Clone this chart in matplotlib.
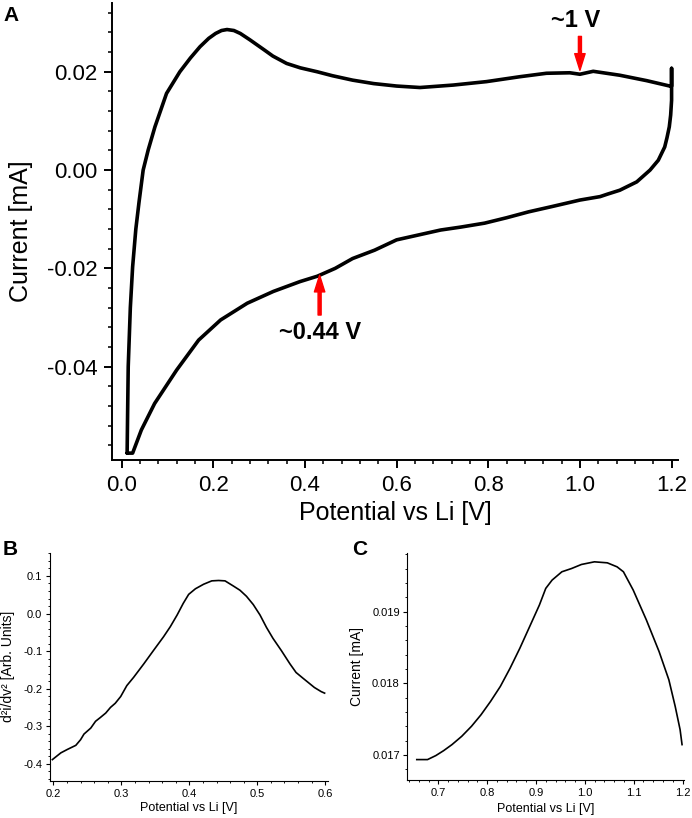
import matplotlib.pyplot as plt
from matplotlib.ticker import MultipleLocator, FormatStrFormatter

plt.rcParams['font.family'] = ['Liberation Sans', 'DejaVu Sans']
plt.rcParams['axes.unicode_minus'] = False

# Panel A - cyclic voltammogram (upper branch, then lower branch back)
cv_up_x = [0.012, 0.013, 0.0144, 0.019, 0.024, 0.031, 0.038, 0.047, 0.058, 0.0727,
           0.098, 0.127, 0.150, 0.171, 0.190, 0.205, 0.218, 0.230, 0.245, 0.259,
           0.28, 0.312, 0.33, 0.36, 0.39, 0.427, 0.46, 0.504, 0.55,
           0.60, 0.651, 0.7236, 0.796, 0.869, 0.927, 0.978, 1.0, 1.029, 1.087,
           1.1455, 1.196, 1.2]
cv_up_y = [-0.0576, -0.050, -0.040, -0.028, -0.0197, -0.012, -0.0065, 0.0, 0.0041, 0.0088,
           0.0156, 0.020, 0.0228, 0.0251, 0.0268, 0.0278, 0.0284, 0.0286, 0.0284, 0.0278,
           0.0265, 0.0244, 0.0232, 0.0217, 0.0208, 0.020, 0.0192, 0.0183, 0.0176,
           0.0171, 0.0168, 0.0173, 0.018, 0.019, 0.0197, 0.0198, 0.0195, 0.0201, 0.0193,
           0.0182, 0.0171, 0.0171]
cv_down_x = [1.2, 1.2, 1.198, 1.195, 1.19, 1.185, 1.171, 1.153, 1.124, 1.087, 1.06, 1.044, 1.0,
             0.94, 0.888, 0.84, 0.792, 0.74, 0.696, 0.648, 0.60, 0.552, 0.504, 0.466, 0.427, 0.389,
             0.331, 0.274, 0.216, 0.168, 0.12, 0.072, 0.043, 0.024, 0.012]
cv_down_y = [0.0207, 0.0142, 0.0112, 0.0088, 0.0066, 0.0047, 0.002, 0.0, -0.0024, -0.0041, -0.0049, -0.0054, -0.0061,
             -0.0074, -0.0085, -0.0097, -0.0108, -0.0116, -0.0122, -0.0132, -0.0142, -0.0163, -0.018, -0.020, -0.0216, -0.0227,
             -0.0247, -0.0271, -0.0305, -0.0346, -0.0407, -0.0475, -0.0529, -0.0576, -0.0576]

# Panel B - second derivative around 0.44 V
d2_x = [0.1985, 0.211, 0.2205, 0.233, 0.240, 0.245, 0.255, 0.262, 0.269, 0.277,
        0.284, 0.291, 0.299, 0.308, 0.318, 0.333, 0.347, 0.362, 0.372, 0.382,
        0.391, 0.399, 0.409, 0.421, 0.433, 0.443, 0.4525, 0.465, 0.4745, 0.484,
        0.494, 0.504, 0.5135, 0.523, 0.5355, 0.548, 0.557, 0.567, 0.5745, 0.584,
        0.594, 0.599]
d2_y = [-0.389, -0.371, -0.362, -0.351, -0.336, -0.321, -0.305, -0.287, -0.277, -0.265,
        -0.250, -0.239, -0.221, -0.192, -0.170, -0.134, -0.099, -0.062, -0.035, -0.004,
        0.027, 0.051, 0.066, 0.078, 0.087, 0.088, 0.087, 0.073, 0.062, 0.046,
        0.024, -0.004, -0.037, -0.066, -0.099, -0.134, -0.157, -0.172, -0.183, -0.197,
        -0.208, -0.212]

# Panel C - current around 1 V
c_x = [0.656, 0.678, 0.695, 0.711, 0.728, 0.748, 0.768, 0.7875, 0.807, 0.827,
       0.847, 0.867, 0.887, 0.907, 0.920, 0.933, 0.953, 0.973, 0.993, 1.0196,
       1.046, 1.066, 1.079, 1.099, 1.126, 1.152, 1.172, 1.185, 1.195, 1.199]
c_y = [0.016935, 0.016935, 0.016991, 0.01706, 0.017144, 0.01726, 0.0174, 0.017561, 0.017747, 0.017956,
       0.018211, 0.01849, 0.018791, 0.019093, 0.019325, 0.019441, 0.019557, 0.019603, 0.019659, 0.019696,
       0.019682, 0.019626, 0.019557, 0.019302, 0.018884, 0.018443, 0.018049, 0.017677, 0.017353, 0.017144]

W, H = 692, 818
fig = plt.figure(figsize=(W / 100, H / 100), dpi=100)


def style(ax, lw, maj, mino, size, pad):
    ax.spines['top'].set_visible(False)
    ax.spines['right'].set_visible(False)
    for s in ('left', 'bottom'):
        ax.spines[s].set_linewidth(lw)
    ax.tick_params(which='major', direction='out', length=maj, width=lw, labelsize=size, pad=pad)
    ax.tick_params(which='minor', direction='out', length=mino, width=lw * 0.8)


# ---- A ----
axA = fig.add_axes([112 / W, 1 - 460 / H, (678 - 112) / W, (460 - 3) / H])
axA.plot(cv_up_x + cv_down_x, cv_up_y + cv_down_y, color='black', lw=2.6,
         solid_joinstyle='round', solid_capstyle='round')
axA.set_xlim(-0.021, 1.214)
axA.set_ylim(-0.059, 0.034)
axA.xaxis.set_major_locator(MultipleLocator(0.2))
axA.xaxis.set_minor_locator(MultipleLocator(0.04))
axA.yaxis.set_major_locator(MultipleLocator(0.02))
axA.yaxis.set_minor_locator(MultipleLocator(0.004))
axA.xaxis.set_major_formatter(FormatStrFormatter('%.1f'))
axA.yaxis.set_major_formatter(FormatStrFormatter('%.2f'))
style(axA, 1.4, 5.5, 3, 16, 5)
axA.set_xlabel('Potential vs Li [V]', fontsize=18)
axA.set_ylabel('Current [mA]', fontsize=18)
axA.xaxis.set_label_coords(0.5, -0.09)
axA.yaxis.set_label_coords(-0.14, 0.5)

arrow = dict(color='red', width=2.2, headwidth=7.5, headlength=12, shrink=0)
axA.annotate('', xy=(1.0, 0.0203), xytext=(1.0, 0.0272), arrowprops=arrow)
axA.annotate('', xy=(0.432, -0.0214), xytext=(0.432, -0.0295), arrowprops=arrow)
axA.text(0.99, 0.0305, '~1 V', fontsize=17, fontweight='bold', ha='center', va='center')
axA.text(0.432, -0.033, '~0.44 V', fontsize=17, fontweight='bold', ha='center', va='center')

# ---- B ----
axB = fig.add_axes([50 / W, 1 - 781 / H, 278 / W, 228.3 / H])
axB.plot(d2_x, d2_y, color='black', lw=1.2)
axB.set_xlim(0.195, 0.604)
axB.set_ylim(-0.446, 0.162)
axB.xaxis.set_major_locator(MultipleLocator(0.1))
axB.xaxis.set_minor_locator(MultipleLocator(0.02))
axB.yaxis.set_major_locator(MultipleLocator(0.1))
axB.yaxis.set_minor_locator(MultipleLocator(0.02))
axB.xaxis.set_major_formatter(FormatStrFormatter('%.1f'))
axB.yaxis.set_major_formatter(FormatStrFormatter('%.1f'))
style(axB, 0.8, 3, 1.6, 8, 2.5)
axB.set_xlabel('Potential vs Li [V]', fontsize=9)
axB.set_ylabel('d²i/dv² [Arb. Units]', fontsize=10)
axB.xaxis.set_label_coords(0.5, -0.09)
axB.yaxis.set_label_coords(-0.125, 0.5)

# ---- C ----
axC = fig.add_axes([407.5 / W, 1 - 780 / H, 276.5 / W, 226.7 / H])
axC.plot(c_x, c_y, color='black', lw=1.2)
axC.set_xlim(0.637, 1.203)
axC.set_ylim(0.01665, 0.019815)
axC.xaxis.set_major_locator(MultipleLocator(0.1))
axC.xaxis.set_minor_locator(MultipleLocator(0.02))
axC.yaxis.set_major_locator(MultipleLocator(0.001))
axC.yaxis.set_minor_locator(MultipleLocator(0.0002))
axC.xaxis.set_major_formatter(FormatStrFormatter('%.1f'))
axC.yaxis.set_major_formatter(FormatStrFormatter('%.3f'))
style(axC, 0.8, 3, 1.6, 8, 2.5)
axC.set_xlabel('Potential vs Li [V]', fontsize=9)
axC.set_ylabel('Current [mA]', fontsize=10)
axC.xaxis.set_label_coords(0.5, -0.1)
axC.yaxis.set_label_coords(-0.157, 0.5)

# panel letters
fig.text(3 / W, 1 - 6 / H, 'A', fontsize=15, fontweight='bold', va='top')
fig.text(3 / W, 1 - 540 / H, 'B', fontsize=15, fontweight='bold', va='top')
fig.text(352 / W, 1 - 540 / H, 'C', fontsize=15, fontweight='bold', va='top')

fig.savefig('out.png', dpi=100)
